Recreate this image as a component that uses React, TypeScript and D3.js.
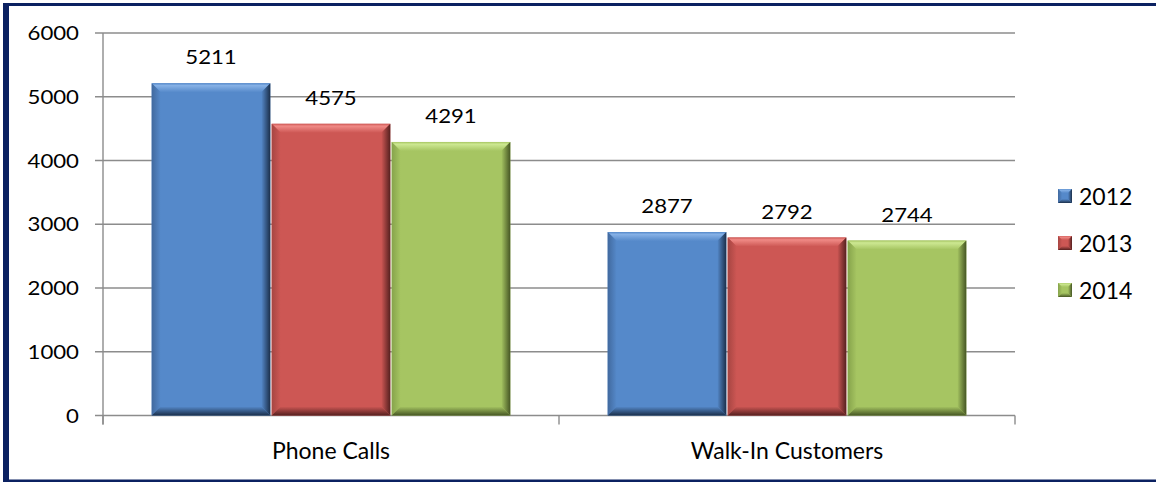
import React from "react";
import * as d3 from "d3";

const categories = ["Phone Calls", "Walk-In Customers"];
const seriesNames = ["2012", "2013", "2014"];
const values2012 = [5211, 2877];
const values2013 = [4575, 2792];
const values2014 = [4291, 2744];
const yTicks = [0, 1000, 2000, 3000, 4000, 5000, 6000];

const seriesValues = [values2012, values2013, values2014];

const palette = [
  { base: "#5589CA", light: "#86B1E6", dark: "#1B2F4A", edge: "#41699E" },
  { base: "#CD5754", light: "#F08A86", dark: "#55201F", edge: "#A64542" },
  { base: "#A6C562", light: "#CDE892", dark: "#465624", edge: "#86A34B" },
];

const W = 1156;
const H = 482;
const plotL = 103;
const plotR = 1015;
const plotT = 33;
const plotB = 415.5;
const FONT = "Lato, 'Open Sans', sans-serif";

function BevelBar({ x, y, w, h, i, b }: any) {
  const bb = Math.min(b, h / 2, w / 2);
  const p = palette[i];
  const pts = (a: number[][]) => a.map((q) => q.join(",")).join(" ");
  return (
    <g>
      <rect x={x} y={y} width={w} height={h} fill={p.base} />
      <polygon
        points={pts([[x, y], [x + w, y], [x + w - bb, y + bb], [x + bb, y + bb]])}
        fill={`url(#top${i})`}
      />
      <polygon
        points={pts([[x, y], [x + bb, y + bb], [x + bb, y + h - bb], [x, y + h]])}
        fill={`url(#left${i})`}
      />
      <polygon
        points={pts([[x + w, y], [x + w, y + h], [x + w - bb, y + h - bb], [x + w - bb, y + bb]])}
        fill={`url(#right${i})`}
      />
      <polygon
        points={pts([[x, y + h], [x + w, y + h], [x + w - bb, y + h - bb], [x + bb, y + h - bb]])}
        fill={`url(#bottom${i})`}
      />
    </g>
  );
}

export default function App() {
  const y = d3.scaleLinear().domain([0, 6000]).range([plotB, plotT]);
  const x0 = d3.scaleBand<string>().domain(categories).range([plotL, plotR]).paddingInner(0).paddingOuter(0);
  const x1 = d3
    .scaleBand<string>()
    .domain(seriesNames)
    .range([0, x0.bandwidth()])
    .paddingInner(0)
    .paddingOuter(0.4);

  const tickLabelSize = 18.5;
  const sx = 1.2;

  return (
    <svg
      width={W}
      height={H}
      style={{ position: "absolute", left: 0, top: 0, background: "#fff" }}
      fontFamily={FONT}
    >
      <defs>
        {palette.map((p, i) => (
          <React.Fragment key={i}>
            <linearGradient id={`top${i}`} x1="0" y1="0" x2="0" y2="1">
              <stop offset="0" stopColor={p.base} />
              <stop offset="0.25" stopColor={p.light} />
              <stop offset="1" stopColor={p.base} />
            </linearGradient>
            <linearGradient id={`left${i}`} x1="0" y1="0" x2="1" y2="0">
              <stop offset="0" stopColor={p.edge} />
              <stop offset="1" stopColor={p.base} />
            </linearGradient>
            <linearGradient id={`right${i}`} x1="0" y1="0" x2="1" y2="0">
              <stop offset="0" stopColor={p.base} />
              <stop offset="1" stopColor={p.dark} />
            </linearGradient>
            <linearGradient id={`bottom${i}`} x1="0" y1="0" x2="0" y2="1">
              <stop offset="0" stopColor={p.base} />
              <stop offset="1" stopColor={p.dark} />
            </linearGradient>
          </React.Fragment>
        ))}
      </defs>

      {/* frame */}
      <rect x={0} y={0} width={W} height={H} fill="#fff" />
      <rect x={3} y={3} width={W} height={3} fill="#0B2161" />
      <rect x={3} y={3} width={6} height={H - 3} fill="#0B2161" />
      <rect x={3} y={479.5} width={W} height={2.5} fill="#0B2161" />

      {/* gridlines and y ticks */}
      {yTicks.map((t) => (
        <g key={t}>
          <line
            x1={95}
            x2={t === 0 ? plotR : plotR}
            y1={y(t)}
            y2={y(t)}
            stroke="#8C8C8C"
            strokeWidth={1.4}
          />
          <text
            transform={`translate(79,${y(t)}) scale(${sx},1)`}
            textAnchor="end"
            dominantBaseline="central"
            fontSize={tickLabelSize}
            fill="#000"
          >
            {t}
          </text>
        </g>
      ))}
      {/* y axis */}
      <line x1={plotL} x2={plotL} y1={plotT} y2={plotB + 9} stroke="#8C8C8C" strokeWidth={1.4} />
      {/* x category ticks */}
      {[plotL, ...categories.map((c) => (x0(c) as number) + x0.bandwidth())].map((xx, k) => (
        <line key={k} x1={xx} x2={xx} y1={plotB} y2={plotB + 9} stroke="#8C8C8C" strokeWidth={1.4} />
      ))}

      {/* bars */}
      {categories.map((c, ci) =>
        seriesNames.map((s, si) => {
          const v = seriesValues[si][ci];
          const bx = (x0(c) as number) + (x1(s) as number);
          const bw = x1.bandwidth();
          const top = y(v);
          return (
            <g key={c + s}>
              <BevelBar x={bx + 0.7} y={top} w={bw - 1.4} h={y(0) - top} i={si} b={9} />
              <text
                transform={`translate(${bx + bw / 2},${top - 19}) scale(${sx},1)`}
                textAnchor="middle"
                fontSize={tickLabelSize}
                fill="#000"
              >
                {v}
              </text>
            </g>
          );
        })
      )}

      {/* category labels */}
      {categories.map((c) => (
        <text
          key={c}
          x={(x0(c) as number) + x0.bandwidth() / 2}
          y={459}
          textAnchor="middle"
          fontSize={23}
          fill="#000"
        >
          {c}
        </text>
      ))}

      {/* legend */}
      {seriesNames.map((s, i) => {
        const cy = 196 + i * 47;
        return (
          <g key={s}>
            <BevelBar x={1058} y={cy - 7} w={14} h={14} i={i} b={4} />
            <text x={1079} y={cy} dominantBaseline="central" fontSize={23} fill="#000">
              {s}
            </text>
          </g>
        );
      })}
    </svg>
  );
}
